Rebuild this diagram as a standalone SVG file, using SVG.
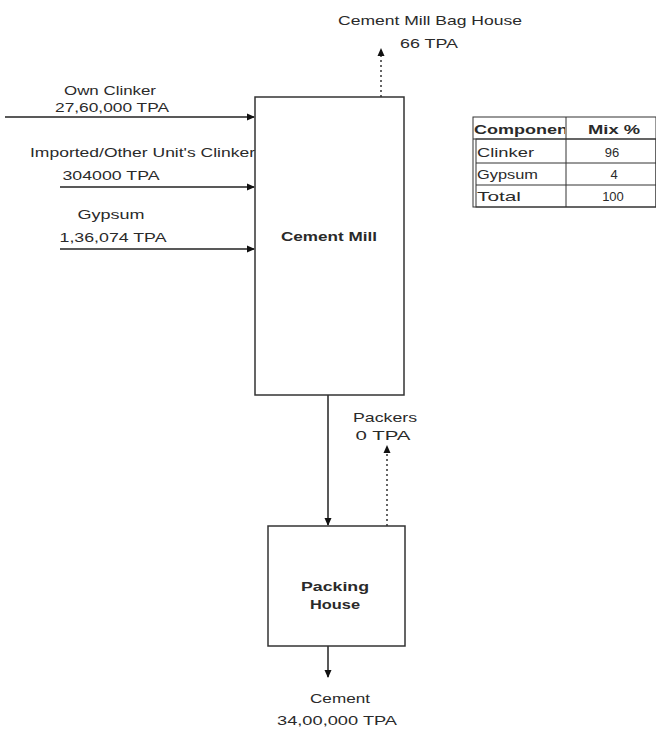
<svg xmlns="http://www.w3.org/2000/svg" width="656" height="730" viewBox="0 0 656 730">
<style>
text{font-family:"Liberation Sans",Arial,sans-serif;font-size:13px;fill:#2a2a2a}
.b{font-weight:bold}
.box{fill:#fff;stroke:#333;stroke-width:1.5}
.ln{stroke:#222;stroke-width:1.5;fill:none}
.dl{stroke:#333;stroke-width:1.5;fill:none;stroke-dasharray:2,3}
.tb{fill:none;stroke:#333;stroke-width:1}
</style>
<defs>
<marker id="ah" markerWidth="8" markerHeight="8" refX="7" refY="4" orient="auto" markerUnits="userSpaceOnUse">
<path d="M0,0.5 L8,4 L0,7.5 Z" fill="#111"/>
</marker>
<clipPath id="c1"><rect x="473" y="117" width="92" height="22"/></clipPath>
</defs>
<g id="connectors">
<line class="ln" x1="5" y1="117" x2="254" y2="117" marker-end="url(#ah)"/>
<line class="ln" x1="60" y1="187" x2="254" y2="187" marker-end="url(#ah)"/>
<line class="ln" x1="60" y1="249" x2="254" y2="249" marker-end="url(#ah)"/>
<line class="dl" x1="381" y1="97" x2="381" y2="49" marker-end="url(#ah)"/>
<line class="ln" x1="328" y1="395" x2="328" y2="525" marker-end="url(#ah)"/>
<line class="dl" x1="387" y1="526" x2="387" y2="446" marker-end="url(#ah)"/>
<line class="ln" x1="328" y1="646" x2="328" y2="677" marker-end="url(#ah)"/>
</g>
<g id="cement-mill">
<rect class="box" x="255" y="97" width="149" height="298"/>
<text class="b" x="329" y="241" text-anchor="middle" textLength="96" lengthAdjust="spacingAndGlyphs">Cement Mill</text>
</g>
<g id="packing-house">
<rect class="box" x="268" y="526" width="137" height="120"/>
<text class="b" x="335" y="591" text-anchor="middle" textLength="68" lengthAdjust="spacingAndGlyphs">Packing</text>
<text class="b" x="335" y="609" text-anchor="middle" textLength="50" lengthAdjust="spacingAndGlyphs">House</text>
</g>
<g id="labels">
<text x="430" y="25" text-anchor="middle" textLength="184" lengthAdjust="spacingAndGlyphs">Cement Mill Bag House</text>
<text x="429" y="48" text-anchor="middle" textLength="58" lengthAdjust="spacingAndGlyphs">66 TPA</text>
<text x="110" y="95" text-anchor="middle" textLength="92" lengthAdjust="spacingAndGlyphs">Own Clinker</text>
<text x="112" y="112" text-anchor="middle" textLength="114" lengthAdjust="spacingAndGlyphs">27,60,000 TPA</text>
<text x="30" y="157" textLength="225" lengthAdjust="spacingAndGlyphs">Imported/Other Unit's Clinker</text>
<text x="111" y="180" text-anchor="middle" textLength="97" lengthAdjust="spacingAndGlyphs">304000 TPA</text>
<text x="111" y="219" text-anchor="middle" textLength="67" lengthAdjust="spacingAndGlyphs">Gypsum</text>
<text x="113" y="242" text-anchor="middle" textLength="107" lengthAdjust="spacingAndGlyphs">1,36,074 TPA</text>
<text x="385" y="422" text-anchor="middle" textLength="64" lengthAdjust="spacingAndGlyphs">Packers</text>
<text x="383" y="440" text-anchor="middle" textLength="55" lengthAdjust="spacingAndGlyphs">0 TPA</text>
<text x="340" y="703" text-anchor="middle" textLength="60" lengthAdjust="spacingAndGlyphs">Cement</text>
<text x="337" y="725" text-anchor="middle" textLength="120" lengthAdjust="spacingAndGlyphs">34,00,000 TPA</text>
</g>
<g id="mix-table">
<rect class="tb" x="473" y="117" width="183" height="90"/>
<rect class="tb" x="476" y="139" width="180" height="68"/>
<line class="tb" x1="473" y1="139" x2="656" y2="139"/>
<line class="tb" x1="476" y1="163" x2="656" y2="163"/>
<line class="tb" x1="476" y1="185" x2="656" y2="185"/>
<line class="tb" x1="566" y1="117" x2="566" y2="207"/>
<text class="b" x="474" y="134" clip-path="url(#c1)" textLength="100" lengthAdjust="spacingAndGlyphs">Component</text>
<text class="b" x="614" y="134" text-anchor="middle" textLength="52" lengthAdjust="spacingAndGlyphs">Mix %</text>
<text x="477" y="157" textLength="57" lengthAdjust="spacingAndGlyphs">Clinker</text>
<text x="612" y="157" text-anchor="middle">96</text>
<text x="477" y="179" textLength="61" lengthAdjust="spacingAndGlyphs">Gypsum</text>
<text x="614" y="179" text-anchor="middle">4</text>
<text x="477" y="201" textLength="44" lengthAdjust="spacingAndGlyphs">Total</text>
<text x="613" y="201" text-anchor="middle">100</text>
</g>
</svg>
